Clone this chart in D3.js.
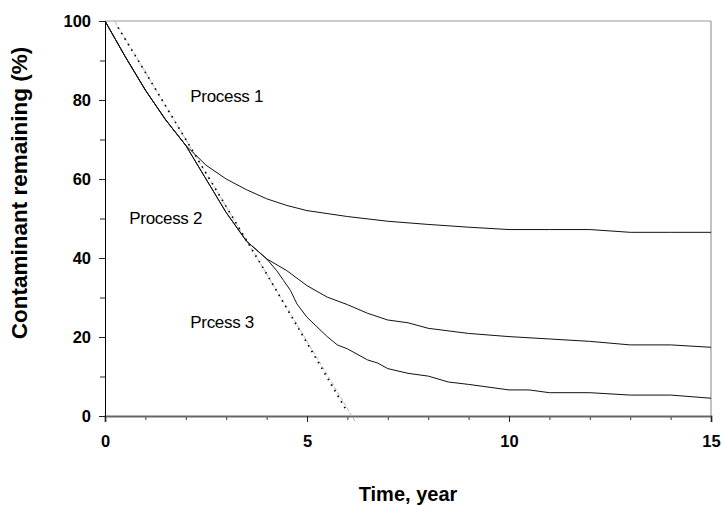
<!DOCTYPE html>
<html>
<head>
<meta charset="utf-8">
<script src="https://cdn.jsdelivr.net/npm/d3@7"></script>
<style>
  body { margin: 0; background: #fff; }
  text { font-family: Arial, "Liberation Sans", sans-serif; }
</style>
</head>
<body>
<svg id="chart"></svg>
<script>
// data
const xTicks = [0, 5, 10, 15];
const yTicks = [0, 20, 40, 60, 80, 100];

const p1Time = [0, 0.5, 1, 1.5, 2, 2.5, 3, 3.5, 4, 4.5, 5, 6, 7, 8, 9, 10, 11, 12, 13, 14, 15];
const p1Value = [100, 91, 82.5, 75, 68.5, 63.5, 60, 57.3, 55, 53.3, 52, 50.5, 49.3, 48.5, 47.8, 47.2, 47.2, 47.2, 46.5, 46.5, 46.5];

const p2Time = [0, 0.5, 1, 1.5, 2, 2.5, 3, 3.5, 4, 4.5, 5, 5.5, 6, 6.5, 7, 7.5, 8, 9, 10, 11, 12, 13, 14, 15];
const p2Value = [100, 91, 82.5, 75, 68.5, 60, 51.5, 44.3, 39.8, 36.8, 33, 30.1, 28.2, 26, 24.3, 23.6, 22.2, 20.9, 20.1, 19.5, 18.9, 18, 18, 17.4];

const p3Time = [0, 0.5, 1, 1.5, 2, 2.5, 3, 3.5, 4, 4.25, 4.42, 4.59, 4.75, 5, 5.5, 5.75, 6, 6.5, 6.75, 7, 7.5, 8, 8.5, 9, 10, 10.5, 11, 12, 13, 14, 15];
const p3Value = [100, 91, 82.5, 75, 68.5, 60, 51.5, 44.3, 39.8, 36.8, 34.3, 31.8, 28.4, 25, 20.1, 18, 17, 14.2, 13.4, 12, 10.8, 10.1, 8.6, 8, 6.6, 6.6, 5.9, 5.9, 5.3, 5.3, 4.5];

// measured (black dotted) and fitted straight line (grey dashed)
const dotTime = [0.32, 1, 2, 3, 4, 5, 6];
const dotValue = [98.4, 87, 70, 53, 36, 18.5, 1];
const fitTime = [0.25, 6.2];
const fitValue = [99.8, -1.5];

const labels = [
  {text: "Process 1", t: 2.11, v: 79.5},
  {text: "Process 2", t: 0.6, v: 48.6},
  {text: "Prcess 3", t: 2.11, v: 22.2}
];

const width = 722, height = 506;
const margin = {top: 21, right: 11, bottom: 90, left: 105};
const w = width - margin.left - margin.right;
const h = height - margin.top - margin.bottom;

const svg = d3.select("#chart").attr("width", width).attr("height", height);
const chart = svg.append("g").attr("transform", `translate(${margin.left},${margin.top})`);

const x = d3.scaleLinear().domain([0, 15]).range([0, w]);
const y = d3.scaleLinear().domain([0, 100]).range([h, 0]);

// frame top / right
chart.append("line").attr("x1", 0).attr("x2", w).attr("y1", 0).attr("y2", 0)
  .attr("stroke", "#999").attr("stroke-width", 1.2);
chart.append("line").attr("x1", w).attr("x2", w).attr("y1", 0).attr("y2", h)
  .attr("stroke", "#999").attr("stroke-width", 1.2);

// x axis: minor ticks every year, labels at 5
const xAxis = chart.append("g").attr("transform", `translate(0,${h})`);
xAxis.append("g")
  .call(d3.axisBottom(x).tickValues(d3.range(0, 16)).tickSize(4).tickFormat(""))
  .call(g => g.select(".domain").remove())
  .call(g => g.selectAll("line").attr("stroke", "#333"));
xAxis.append("g")
  .call(d3.axisBottom(x).tickValues(xTicks).tickSize(6).tickPadding(13))
  .call(g => g.select(".domain").attr("stroke", "#666").attr("stroke-width", 2))
  .call(g => g.selectAll("line").attr("stroke", "#222"))
  .call(g => g.selectAll("text").attr("font-size", 16.5).attr("font-weight", "bold").attr("fill", "#000"));

const yAxis = chart.append("g");
yAxis.append("g")
  .call(d3.axisLeft(y).tickValues(d3.range(0, 101, 10)).tickSize(5).tickFormat(""))
  .call(g => g.select(".domain").remove())
  .call(g => g.selectAll("line").attr("stroke", "#222"));
yAxis.append("g")
  .call(d3.axisLeft(y).tickValues(yTicks).tickSize(6).tickPadding(8))
  .call(g => g.select(".domain").attr("stroke", "#000").attr("stroke-width", 1))
  .call(g => g.selectAll("line").attr("stroke", "#222"))
  .call(g => g.selectAll("text").attr("font-size", 16.5).attr("font-weight", "bold").attr("fill", "#000"));

const line = d3.line().x(d => x(d[0])).y(d => y(d[1]));
const zip = (a, b) => a.map((d, i) => [d, b[i]]);

chart.append("path").datum(zip(fitTime, fitValue)).attr("d", line)
  .attr("fill", "none").attr("stroke", "#b8b8b8").attr("stroke-width", 1).attr("stroke-dasharray", "4,2");
chart.append("path").datum(zip(dotTime, dotValue)).attr("d", line)
  .attr("fill", "none").attr("stroke", "#000").attr("stroke-width", 1.7).attr("stroke-dasharray", "1.5,5");

[[p1Time, p1Value], [p2Time, p2Value], [p3Time, p3Value]].forEach(s => {
  chart.append("path").datum(zip(s[0], s[1])).attr("d", line)
    .attr("fill", "none").attr("stroke", "#111").attr("stroke-width", 1);
});

chart.selectAll(".lbl").data(labels).enter().append("text")
  .attr("class", "lbl")
  .attr("x", d => x(d.t)).attr("y", d => y(d.v))
  .attr("font-size", 17).attr("letter-spacing", -0.3)
  .text(d => d.text);

svg.append("text")
  .attr("x", margin.left + w / 2).attr("y", 501)
  .attr("text-anchor", "middle").attr("font-size", 20).attr("font-weight", "bold")
  .text("Time, year");

svg.append("text")
  .attr("transform", `translate(27,${193}) rotate(-90)`)
  .attr("text-anchor", "middle").attr("font-size", 22.5).attr("font-weight", "bold")
  .text("Contaminant remaining (%)");
</script>
</body>
</html>
